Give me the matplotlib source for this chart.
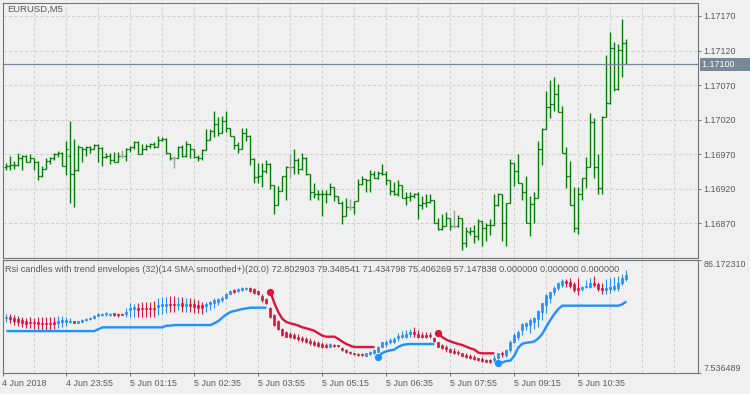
import numpy as np
import matplotlib.pyplot as plt
from matplotlib import transforms

plt.rcParams['font.family'] = ['Liberation Sans', 'DejaVu Sans']
plt.rcParams['lines.scale_dashes'] = False

nan = float('nan')

symbol = "EURUSD,M5"
indicator = "Rsi candles with trend envelopes (32)(14 SMA smoothed+)(20.0)"
time_labels = ["4 Jun 2018", "4 Jun 23:55", "5 Jun 01:15", "5 Jun 02:35", "5 Jun 03:55",
               "5 Jun 05:15", "5 Jun 06:35", "5 Jun 07:55", "5 Jun 09:15", "5 Jun 10:35"]
price_ticks = [1.16870, 1.16920, 1.16970, 1.17020, 1.17070, 1.17120, 1.17170]
price_range = (1.168205, 1.171895)
rsi_range = (7.536489, 86.172310)

# EURUSD M5 bars, oldest first
price_open = [
    1.16952, 1.16953, 1.16954, 1.16955, 1.16964, 1.16968, 1.16959, 1.16965, 1.16959, 1.16938,
    1.16948, 1.16960, 1.16965, 1.16970, 1.16972, 1.16953, 1.16967, 1.16941, 1.16947, 1.16981,
    1.16978, 1.16981, 1.16977, 1.16984, 1.16979, 1.16966, 1.16967, 1.16961, 1.16959, 1.16968,
    1.16968, 1.16978, 1.16980, 1.16987, 1.16970, 1.16978, 1.16982, 1.16985, 1.16980, 1.16991,
    1.16992, 1.16971, 1.16965, 1.16965, 1.16981, 1.16967, 1.16985, 1.16977, 1.16966, 1.16964,
    1.16976, 1.16990, 1.17004, 1.17013, 1.17001, 1.17018, 1.17008, 1.16996, 1.16983, 1.16977,
    1.17001, 1.16997, 1.16963, 1.16937, 1.16938, 1.16945, 1.16956, 1.16926, 1.16897, 1.16917,
    1.16938, 1.16952, 1.16952, 1.16961, 1.16948, 1.16965, 1.16941, 1.16916, 1.16912, 1.16913,
    1.16912, 1.16913, 1.16922, 1.16910, 1.16900, 1.16881, 1.16893, 1.16893, 1.16902, 1.16927,
    1.16934, 1.16933, 1.16941, 1.16935, 1.16943, 1.16942, 1.16932, 1.16917, 1.16912, 1.16926,
    1.16906, 1.16908, 1.16909, 1.16912, 1.16897, 1.16900, 1.16901, 1.16903, 1.16870, 1.16862,
    1.16866, 1.16877, 1.16866, 1.16866, 1.16877, 1.16842, 1.16858, 1.16859, 1.16851, 1.16873,
    1.16863, 1.16867, 1.16868, 1.16896, 1.16912, 1.16870, 1.16899, 1.16957, 1.16946, 1.16929,
    1.16916, 1.16871, 1.16898, 1.16906, 1.16977, 1.17007, 1.17039, 1.17042, 1.17057, 1.17031,
    1.16972, 1.16939, 1.16896, 1.16863, 1.16912, 1.16935, 1.16952, 1.17016, 1.16951, 1.16921,
    1.17024, 1.17044, 1.17123, 1.17065, 1.17121, 1.17131]
price_high = [
    1.16957, 1.16967, 1.16960, 1.16971, 1.16969, 1.16969, 1.16970, 1.16965, 1.16960, 1.16953,
    1.16965, 1.16966, 1.16971, 1.16974, 1.16973, 1.16989, 1.17018, 1.16992, 1.16984, 1.16981,
    1.16982, 1.16982, 1.16985, 1.16985, 1.16980, 1.16971, 1.16972, 1.16973, 1.16973, 1.16976,
    1.16979, 1.16982, 1.16989, 1.16989, 1.16985, 1.16985, 1.16986, 1.16988, 1.16996, 1.16995,
    1.16994, 1.16972, 1.16967, 1.16982, 1.16983, 1.16989, 1.16985, 1.16977, 1.16969, 1.16977,
    1.17006, 1.17007, 1.17033, 1.17024, 1.17025, 1.17033, 1.17008, 1.16997, 1.16988, 1.17008,
    1.17008, 1.16998, 1.16964, 1.16957, 1.16957, 1.16961, 1.16957, 1.16926, 1.16924, 1.16938,
    1.16953, 1.16970, 1.16977, 1.16964, 1.16972, 1.16966, 1.16941, 1.16928, 1.16918, 1.16918,
    1.16918, 1.16928, 1.16923, 1.16910, 1.16902, 1.16906, 1.16905, 1.16902, 1.16934, 1.16938,
    1.16934, 1.16947, 1.16946, 1.16945, 1.16956, 1.16945, 1.16933, 1.16930, 1.16933, 1.16926,
    1.16915, 1.16915, 1.16914, 1.16916, 1.16910, 1.16912, 1.16912, 1.16904, 1.16877, 1.16883,
    1.16887, 1.16877, 1.16889, 1.16882, 1.16877, 1.16865, 1.16864, 1.16867, 1.16876, 1.16874,
    1.16870, 1.16876, 1.16912, 1.16914, 1.16912, 1.16900, 1.16963, 1.16957, 1.16970, 1.16929,
    1.16938, 1.16909, 1.16916, 1.16989, 1.17008, 1.17062, 1.17077, 1.17081, 1.17072, 1.17040,
    1.16981, 1.16960, 1.16922, 1.16922, 1.16935, 1.16966, 1.17029, 1.17022, 1.16970, 1.17025,
    1.17114, 1.17147, 1.17132, 1.17130, 1.17165, 1.17137]
price_low = [
    1.16947, 1.16947, 1.16949, 1.16953, 1.16947, 1.16959, 1.16959, 1.16947, 1.16932, 1.16937,
    1.16948, 1.16956, 1.16961, 1.16966, 1.16953, 1.16940, 1.16900, 1.16893, 1.16946, 1.16958,
    1.16968, 1.16971, 1.16977, 1.16959, 1.16953, 1.16964, 1.16956, 1.16958, 1.16958, 1.16965,
    1.16960, 1.16973, 1.16978, 1.16970, 1.16970, 1.16976, 1.16979, 1.16979, 1.16980, 1.16989,
    1.16970, 1.16961, 1.16950, 1.16964, 1.16966, 1.16966, 1.16965, 1.16965, 1.16960, 1.16961,
    1.16976, 1.16990, 1.16995, 1.16996, 1.17001, 1.17002, 1.16996, 1.16978, 1.16971, 1.16977,
    1.16989, 1.16954, 1.16928, 1.16928, 1.16922, 1.16943, 1.16919, 1.16883, 1.16897, 1.16917,
    1.16903, 1.16935, 1.16941, 1.16941, 1.16947, 1.16940, 1.16903, 1.16906, 1.16903, 1.16880,
    1.16899, 1.16911, 1.16902, 1.16900, 1.16869, 1.16881, 1.16889, 1.16883, 1.16902, 1.16926,
    1.16916, 1.16916, 1.16935, 1.16934, 1.16940, 1.16925, 1.16911, 1.16911, 1.16910, 1.16906,
    1.16896, 1.16902, 1.16906, 1.16876, 1.16890, 1.16894, 1.16899, 1.16870, 1.16860, 1.16861,
    1.16866, 1.16860, 1.16863, 1.16865, 1.16832, 1.16836, 1.16853, 1.16842, 1.16846, 1.16837,
    1.16845, 1.16853, 1.16868, 1.16895, 1.16845, 1.16837, 1.16899, 1.16924, 1.16928, 1.16904,
    1.16870, 1.16851, 1.16870, 1.16906, 1.16954, 1.17006, 1.17022, 1.17032, 1.17031, 1.16971,
    1.16921, 1.16896, 1.16858, 1.16855, 1.16904, 1.16921, 1.16952, 1.16935, 1.16912, 1.16913,
    1.17024, 1.17042, 1.17062, 1.17063, 1.17082, 1.17100]
price_close = [
    1.16953, 1.16954, 1.16955, 1.16964, 1.16968, 1.16959, 1.16965, 1.16959, 1.16938, 1.16948,
    1.16960, 1.16965, 1.16970, 1.16972, 1.16953, 1.16978, 1.16941, 1.16947, 1.16981, 1.16978,
    1.16981, 1.16977, 1.16984, 1.16979, 1.16966, 1.16967, 1.16961, 1.16959, 1.16968, 1.16968,
    1.16978, 1.16980, 1.16987, 1.16970, 1.16978, 1.16982, 1.16985, 1.16980, 1.16991, 1.16992,
    1.16971, 1.16965, 1.16965, 1.16981, 1.16967, 1.16985, 1.16977, 1.16966, 1.16964, 1.16976,
    1.16990, 1.17004, 1.17013, 1.17001, 1.17018, 1.17008, 1.16996, 1.16983, 1.16977, 1.17001,
    1.16997, 1.16963, 1.16937, 1.16938, 1.16945, 1.16956, 1.16926, 1.16897, 1.16917, 1.16938,
    1.16952, 1.16952, 1.16961, 1.16948, 1.16965, 1.16941, 1.16916, 1.16912, 1.16913, 1.16912,
    1.16913, 1.16922, 1.16910, 1.16900, 1.16881, 1.16893, 1.16893, 1.16902, 1.16927, 1.16934,
    1.16933, 1.16941, 1.16935, 1.16943, 1.16942, 1.16932, 1.16917, 1.16912, 1.16926, 1.16906,
    1.16908, 1.16909, 1.16912, 1.16897, 1.16900, 1.16901, 1.16903, 1.16870, 1.16862, 1.16866,
    1.16877, 1.16866, 1.16866, 1.16877, 1.16842, 1.16859, 1.16859, 1.16851, 1.16873, 1.16863,
    1.16867, 1.16868, 1.16896, 1.16912, 1.16870, 1.16899, 1.16957, 1.16946, 1.16929, 1.16916,
    1.16871, 1.16898, 1.16906, 1.16977, 1.17007, 1.17039, 1.17042, 1.17057, 1.17031, 1.16972,
    1.16939, 1.16896, 1.16863, 1.16912, 1.16935, 1.16952, 1.17016, 1.16951, 1.16921, 1.17024,
    1.17044, 1.17123, 1.17065, 1.17121, 1.17131, 1.17100]

# rsi candles
rsi_open = [
    45.4, 46.5, 45.8, 44.7, 44.2, 43.5, 43.0, 42.8, 42.6, 42.3,
    42.3, 42.3, 42.6, 41.9, 42.6, 43.0, 42.8, 43.3, 42.3, 43.0,
    44.0, 44.7, 45.4, 47.0, 47.7, 48.1, 47.9, 48.9, 48.6, 48.6,
    48.1, 51.2, 51.9, 52.8, 52.5, 52.5, 52.5, 52.5, 53.0, 53.9,
    54.2, 55.6, 55.3, 54.6, 56.0, 54.2, 55.3, 55.1, 54.6, 54.6,
    54.2, 55.1, 55.8, 57.0, 57.9, 59.3, 62.5, 64.8, 64.4, 65.3,
    65.5, 66.2, 65.5, 64.4, 61.1, 58.8, 52.3, 47.7, 43.5, 37.9,
    36.1, 34.2, 33.8, 32.6, 31.9, 31.0, 29.6, 28.7, 28.0, 27.3,
    26.8, 25.6, 26.8, 26.6, 24.5, 23.3, 22.2, 21.2, 20.5, 20.5,
    19.4, 20.3, 21.0, 22.2, 25.6, 27.3, 28.7, 29.1, 31.4, 32.6,
    32.6, 34.2, 36.1, 34.5, 33.8, 33.8, 33.8, 31.4, 28.7, 26.8,
    25.6, 23.8, 22.8, 22.2, 21.0, 19.8, 19.1, 18.2, 17.5, 17.1,
    16.4, 16.4, 16.4, 17.5, 21.2, 19.8, 23.3, 29.1, 32.6, 37.2,
    40.3, 40.7, 43.0, 44.9, 49.5, 54.6, 59.7, 63.5, 66.7, 68.6,
    71.3, 70.9, 69.0, 66.2, 65.5, 66.9, 67.4, 69.7, 69.0, 66.2,
    65.1, 65.5, 65.8, 66.2, 69.7, 72.802903]
rsi_high = [
    48.1, 48.1, 47.7, 47.2, 46.5, 45.8, 46.1, 45.4, 46.3, 46.5,
    46.5, 46.3, 46.5, 47.0, 47.0, 46.5, 45.4, 43.7, 43.7, 44.7,
    45.4, 46.3, 47.5, 48.9, 49.1, 49.5, 49.3, 49.3, 49.1, 49.1,
    52.8, 55.8, 55.6, 56.3, 57.0, 57.0, 57.0, 57.7, 59.3, 60.4,
    60.4, 60.7, 61.1, 60.0, 60.4, 59.7, 59.7, 58.6, 58.1, 57.0,
    57.0, 57.7, 59.3, 59.7, 60.7, 62.8, 65.1, 65.8, 66.2, 66.9,
    67.2, 66.9, 66.2, 65.1, 62.1, 59.7, 53.5, 48.2, 44.0, 38.4,
    36.5, 35.6, 34.9, 34.2, 33.3, 32.3, 31.4, 30.0, 29.6, 28.7,
    28.0, 28.0, 27.3, 27.0, 25.1, 23.8, 22.6, 21.5, 21.0, 21.2,
    21.5, 22.6, 23.8, 26.1, 29.1, 30.3, 31.9, 32.6, 34.9, 36.5,
    37.2, 37.9, 39.5, 37.2, 36.1, 35.6, 35.6, 32.6, 29.1, 27.3,
    26.8, 24.9, 24.5, 23.3, 21.5, 21.0, 20.5, 19.8, 17.8, 18.7,
    16.9, 16.9, 19.8, 21.5, 22.6, 24.0, 30.3, 34.9, 37.2, 41.9,
    43.0, 45.4, 46.5, 51.2, 55.8, 62.1, 63.9, 67.9, 70.9, 72.7,
    72.7, 73.7, 70.9, 73.7, 68.1, 72.0, 73.2, 75.1, 70.9, 69.7,
    72.7, 73.2, 74.4, 75.1, 76.0, 79.348541]
rsi_low = [
    43.0, 41.9, 40.7, 40.3, 39.5, 38.9, 38.4, 37.9, 37.2, 37.2,
    37.2, 37.5, 37.9, 38.9, 39.5, 40.0, 41.9, 41.9, 41.9, 42.6,
    43.7, 44.4, 45.1, 46.8, 47.2, 47.2, 47.2, 47.2, 46.5, 47.4,
    46.3, 46.1, 46.5, 46.5, 46.5, 46.5, 46.1, 46.1, 47.7, 48.1,
    48.9, 50.0, 50.0, 51.2, 50.0, 50.0, 50.0, 48.9, 48.9, 48.1,
    50.0, 51.2, 52.8, 54.6, 56.5, 58.6, 62.1, 62.8, 63.5, 64.4,
    64.8, 63.9, 62.1, 61.6, 57.0, 55.1, 45.8, 40.0, 37.2, 33.1,
    32.1, 31.4, 31.0, 29.6, 28.7, 28.0, 26.8, 26.3, 25.6, 24.5,
    24.5, 25.1, 25.6, 25.4, 22.8, 21.3, 20.5, 20.0, 19.4, 19.1,
    19.1, 19.8, 20.5, 21.7, 25.1, 25.6, 27.3, 28.0, 29.6, 31.4,
    31.4, 32.6, 32.6, 31.4, 31.4, 31.4, 31.4, 28.7, 25.1, 24.0,
    22.2, 21.0, 20.3, 19.8, 18.9, 17.5, 17.1, 16.4, 16.0, 15.2,
    14.9, 14.2, 15.2, 17.1, 18.7, 18.7, 22.2, 28.0, 30.3, 33.8,
    37.2, 34.9, 37.9, 39.5, 44.2, 48.9, 55.8, 61.6, 65.1, 67.4,
    67.4, 66.2, 63.9, 61.6, 64.4, 66.2, 66.2, 67.4, 64.4, 62.1,
    62.1, 62.8, 64.4, 64.4, 68.6, 71.434798]
rsi_close = [
    46.3, 44.9, 43.5, 43.0, 41.9, 41.6, 41.9, 41.9, 41.2, 41.6,
    41.6, 41.6, 41.6, 43.5, 44.0, 44.2, 43.7, 42.3, 43.3, 44.2,
    44.9, 45.8, 47.2, 48.4, 48.6, 49.1, 48.6, 47.7, 47.7, 47.9,
    50.0, 52.8, 53.0, 51.4, 51.6, 51.6, 51.6, 51.6, 54.6, 55.1,
    55.1, 54.4, 54.4, 55.6, 54.2, 55.6, 54.2, 53.5, 52.8, 52.8,
    55.6, 56.7, 58.1, 58.8, 59.7, 62.1, 64.4, 63.9, 65.5, 66.2,
    66.7, 64.4, 62.8, 62.1, 58.1, 55.8, 46.5, 40.7, 37.9, 33.8,
    32.6, 32.6, 31.9, 31.0, 30.1, 29.1, 28.0, 26.8, 26.3, 25.6,
    25.6, 27.3, 26.1, 25.8, 23.1, 21.7, 21.0, 20.3, 19.8, 19.8,
    21.0, 22.2, 23.3, 25.6, 28.7, 29.1, 30.3, 31.0, 33.1, 33.8,
    34.2, 35.6, 34.2, 32.6, 32.6, 32.6, 33.1, 29.6, 25.6, 24.5,
    23.8, 22.2, 21.5, 21.0, 19.4, 18.7, 18.0, 17.1, 16.4, 15.7,
    15.2, 14.7, 18.0, 21.0, 20.8, 23.3, 29.1, 33.8, 36.1, 41.2,
    41.9, 44.2, 45.8, 50.5, 55.8, 61.6, 63.5, 66.7, 69.7, 71.3,
    69.7, 68.1, 65.1, 65.1, 66.9, 67.9, 69.7, 68.6, 65.8, 65.1,
    66.2, 66.9, 68.1, 69.7, 73.2, 75.406269]

# trend envelopes: lower (up trend) and upper (down trend)
env_up = ([36.5] * 23 + [37.9] + [39.1] * 16 + [40.3] * 2 + [40.7] * 10
          + [42.0, 43.5, 46.0, 48.0, 49.8, 50.5, 51.2, 51.9, 52.3] + [52.8] * 5
          + [nan] * 27
          + [18.7, 21.3, 22.4, 23.1, 23.6, 25.6, 26.8, 27.3] + [27.5] * 7
          + [nan] * 15
          + [14.0, 14.7, 15.7, 15.9, 19.4, 25.1, 27.7, 28.4, 28.7, 29.3, 31.4, 34.6,
             39.7, 44.2, 48.4, 51.9] + [54.2] * 15 + [55.1, 57.147838])
env_dn = ([nan] * 66
          + [63.9, 55.8, 49.5, 45.0, 42.8, 41.9, 41.2, 40.3, 39.1, 38.4, 37.6, 36.7, 34.9, 33.3]
          + [32.6] * 3 + [31.0, 29.1, 27.5, 26.3] + [25.4] * 6
          + [nan] * 15
          + [34.9, 32.3, 30.5, 29.3, 28.4, 27.5, 26.8, 25.6, 24.5, 23.6, 21.5] + [21.0] * 4
          + [nan] * 33)

BG = '#f0f0f0'
GRID = '#d0d0d0'
FRAME = '#747474'
TXT = '#5a5a5a'
BAR = '#008000'
DOJI = '#a0a0a0'
UP = '#1e90ff'
DN = '#dc143c'
CUR = '#778899'
FS = 6.4

n = len(price_open)
x = np.arange(1, n + 1)
po, ph, pl, pc = [np.array(a) for a in (price_open, price_high, price_low, price_close)]
ro, rh, rl, rc = [np.array(a) for a in (rsi_open, rsi_high, rsi_low, rsi_close)]
eu, ed = np.array(env_up), np.array(env_dn)

fig = plt.figure(figsize=(7.5, 3.94), dpi=100, facecolor=BG)
ax1 = fig.add_axes([2.5 / 750, 136.5 / 394, 695 / 750, 255 / 394])
ax2 = fig.add_axes([2.5 / 750, 21.3 / 394, 695 / 750, 113 / 394])

label_step = 16
major = np.arange(len(time_labels)) * label_step
xmax = 173.8
minor = [v for v in np.arange(8, xmax, 8) if v not in major]

for ax in (ax1, ax2):
    ax.set_facecolor(BG)
    ax.set_xlim(0.05, xmax)
    for s in ax.spines.values():
        s.set_color(FRAME)
        s.set_linewidth(0.8)
    ax.set_xticks(major)
    ax.set_xticks(minor, minor=True)
    ax.grid(True, axis='x', which='both', color=GRID, lw=0.75, dashes=(2.3, 1.5))
    ax.set_axisbelow(True)
    ax.yaxis.tick_right()
    ax.tick_params(axis='y', which='both', length=2.2, width=0.7, color=FRAME,
                   labelsize=FS, labelcolor=TXT, pad=2.2)
    ax.tick_params(axis='x', which='minor', length=0)

# ---- price pane
ax1.set_ylim(*price_range)
ax1.set_yticks(price_ticks)
ax1.set_yticklabels([f"{v:.5f}" for v in price_ticks])
ax1.grid(True, axis='y', color=GRID, lw=0.75, dashes=(2.3, 1.5))
ax1.tick_params(axis='x', which='major', length=0, labelbottom=False)

cols = [DOJI if o == c else BAR for o, c in zip(po, pc)]
ax1.vlines(x, pl, ph, colors=cols, lw=1.0)
ax1.hlines(po, x - 0.5, x, colors=cols, lw=0.9)
ax1.hlines(pc, x, x + 0.5, colors=cols, lw=0.9)

ax1.axhline(pc[-1], color=CUR, lw=0.9)
tr = transforms.blended_transform_factory(ax1.transAxes, ax1.transData)
ax1.text(1.006, pc[-1], f"{pc[-1]:.5f}      ", transform=tr, ha='left', va='center',
         fontsize=FS, color='white',
         bbox=dict(boxstyle='square,pad=0.22', fc=CUR, ec='none'))
ax1.text(0.0065, 0.972, symbol, transform=ax1.transAxes, ha='left', va='center',
         fontsize=6.8, color=TXT)

# ---- rsi pane
ax2.set_ylim(*rsi_range)
ax2.set_yticks(rsi_range)
ax2.set_yticklabels([f"{v:.6f}" for v in rsi_range])
lab = ax2.get_yticklabels()
lab[0].set_va('bottom')
lab[1].set_va('top')
ax2.set_xticklabels(time_labels, ha='left')
ax2.tick_params(axis='x', which='major', length=2.5, width=0.7, color=FRAME,
                labelsize=FS, labelcolor=TXT, pad=1.8)

ccols = [UP if c >= o else DN for o, c in zip(ro, rc)]
ax2.vlines(x, rl, rh, colors=ccols, lw=0.75)
ax2.bar(x, np.abs(rc - ro), bottom=np.minimum(ro, rc), width=0.5, color=ccols,
        edgecolor=ccols, linewidth=0.5)

ax2.plot(x, eu, color=UP, lw=1.7, solid_capstyle='butt')
ax2.plot(x, ed, color=DN, lw=1.7, solid_capstyle='butt')
for env, col in ((eu, UP), (ed, DN)):
    start = ~np.isnan(env[1:]) & np.isnan(env[:-1])
    ax2.plot(x[1:][start], env[1:][start], 'o', color=col, ms=4.2, mec=col, zorder=5)

values = " ".join(f"{v:.6f}" for v in (ro[-1], rh[-1], rl[-1], rc[-1], eu[-1], 0, 0, 0))
ax2.text(0.0036, 0.915, f"{indicator} {values}", transform=ax2.transAxes,
         ha='left', va='center', fontsize=6.6, color=TXT)

fig.savefig("out.png", dpi=100, facecolor=BG)
